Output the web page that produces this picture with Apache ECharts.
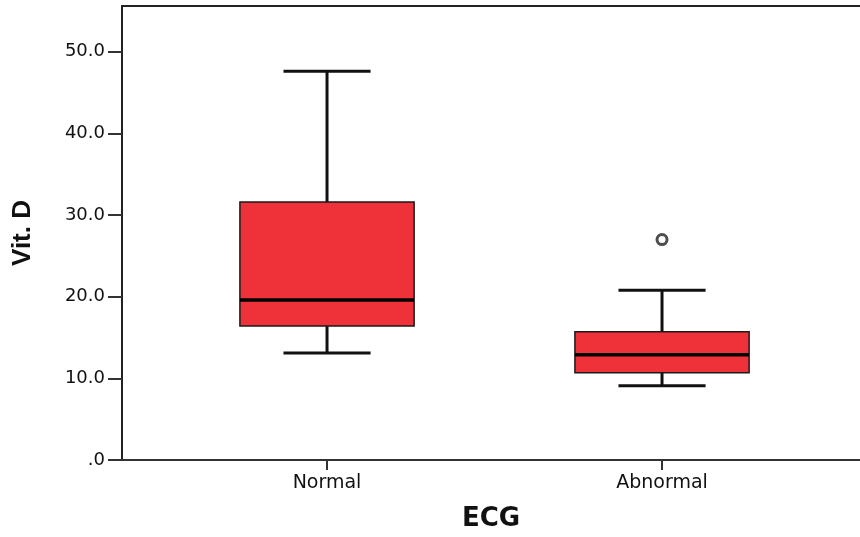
<!DOCTYPE html>
<html>
<head>
<meta charset="utf-8">
<script src="https://cdn.jsdelivr.net/npm/echarts@6/dist/echarts.min.js"></script>
<style>
  html, body { margin: 0; padding: 0; background: #fff; }
  #chart { width: 860px; height: 537px; }
</style>
</head>
<body>
<div id="chart"></div>
<script>
// box plot summary (Vit. D by ECG)
var categories = ['Normal', 'Abnormal'];
var whiskerLow = [13.1, 9.1];
var quartile1 = [16.4, 10.7];
var medians = [19.6, 12.9];
var quartile3 = [31.6, 15.7];
var whiskerHigh = [47.6, 20.8];
var outliers = [[1, 27.0]];
var yTicks = [0, 10, 20, 30, 40, 50];

var boxData = categories.map(function(c, i){
    return [i, whiskerLow[i], quartile1[i], medians[i], quartile3[i], whiskerHigh[i]];
});

// 画一个箱子（箱体 + 中位线 + 须 + 端线）
function renderBox(params, api){
    var x = api.value(0);
    var band = api.size([1, 0])[0];
    var half = band * 0.26;
    var cap = half / 2;
    var pLow = api.coord([x, api.value(1)]);
    var pQ1 = api.coord([x, api.value(2)]);
    var pMed = api.coord([x, api.value(3)]);
    var pQ3 = api.coord([x, api.value(4)]);
    var pHigh = api.coord([x, api.value(5)]);
    var lineStyle = { stroke: '#111', lineWidth: 3 };
    return {
        type: 'group',
        children: [
            { type: 'line', shape: { x1: pLow[0], y1: pLow[1], x2: pQ1[0], y2: pQ1[1] }, style: lineStyle },
            { type: 'line', shape: { x1: pQ3[0], y1: pQ3[1], x2: pHigh[0], y2: pHigh[1] }, style: lineStyle },
            { type: 'line', shape: { x1: pLow[0] - cap, y1: pLow[1], x2: pLow[0] + cap, y2: pLow[1] }, style: lineStyle },
            { type: 'line', shape: { x1: pHigh[0] - cap, y1: pHigh[1], x2: pHigh[0] + cap, y2: pHigh[1] }, style: lineStyle },
            { type: 'rect', shape: { x: pQ3[0] - half, y: pQ3[1], width: half * 2, height: pQ1[1] - pQ3[1] },
              style: { fill: '#ef323a', stroke: '#1a1a1a', lineWidth: 1.5 } },
            { type: 'line', shape: { x1: pMed[0] - half, y1: pMed[1], x2: pMed[0] + half, y2: pMed[1] },
              style: { stroke: '#000', lineWidth: 3.5 } }
        ]
    };
}

var myChart = echarts.init(document.getElementById('chart'));
var option = {
    animation: false,
    backgroundColor: '#fff',
    textStyle: { fontFamily: 'DejaVu Sans' },
    grid: {
        left: 122,
        top: 6,
        right: 0,
        bottom: 75
    },
    xAxis: [
        {
            type: 'value',
            min: -0.612,
            max: 1.591,
            name: 'ECG',
            nameLocation: 'middle',
            nameGap: 46,
            nameTextStyle: { fontFamily: 'DejaVu Sans', fontWeight: 'bold', fontSize: 26, color: '#111' },
            axisLine: { onZero: false, lineStyle: { color: '#333', width: 2 } },
            axisTick: { customValues: [0, 1], length: 10, lineStyle: { color: '#333', width: 2 } },
            axisLabel: {
                customValues: [0, 1],
                margin: 14,
                fontSize: 19,
                color: '#111',
                formatter: function(v){ return categories[Math.round(v)]; }
            },
            splitLine: { show: false }
        },
        {
            // 上边框
            type: 'value',
            position: 'top',
            min: -0.612,
            max: 1.591,
            axisLine: { show: true, onZero: false, lineStyle: { color: '#222', width: 2 } },
            axisTick: { show: false },
            axisLabel: { show: false },
            splitLine: { show: false }
        }
    ],
    yAxis: {
        type: 'value',
        min: 0,
        max: 55.6,
        name: 'Vit. D',
        nameLocation: 'middle',
        nameGap: 86,
        nameTextStyle: { fontFamily: 'Liberation Sans', fontWeight: 'bold', fontSize: 26, color: '#111' },
        axisLine: { show: true, onZero: false, lineStyle: { color: '#222', width: 2 } },
        axisTick: { customValues: yTicks, length: 14, lineStyle: { color: '#333', width: 2 } },
        axisLabel: {
            customValues: yTicks,
            margin: 17,
            fontSize: 18,
            color: '#111',
            formatter: function(v){ return v === 0 ? '.0' : v.toFixed(1); }
        },
        splitLine: { show: false }
    },
    series: [
        {
            type: 'custom',
            renderItem: renderBox,
            data: boxData,
            encode: { x: 0, y: [1, 2, 3, 4, 5] },
            z: 2
        },
        {
            type: 'scatter',
            data: outliers,
            symbol: 'circle',
            symbolSize: 10,
            itemStyle: { color: '#fff', borderColor: '#222', borderWidth: 3 },
            z: 3
        }
    ]
};
myChart.setOption(option);
</script>
</body>
</html>
